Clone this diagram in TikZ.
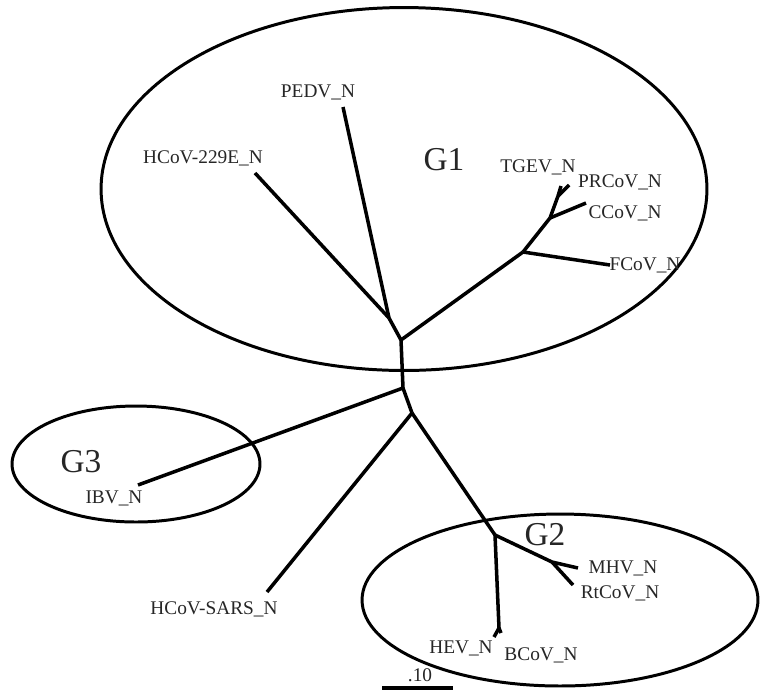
\documentclass[tikz,border=0pt]{standalone}
\usepackage{fontspec}
\setmainfont{Liberation Serif}

\begin{document}
\begin{tikzpicture}[x=0.02cm,y=-0.02cm]
        \useasboundingbox (0,0) rectangle (763,691);

        % groups
        \begin{scope}[line width=1.7pt]
          \draw (404,189) ellipse [x radius=6.06cm, y radius=3.63cm];
          \draw (136,464) ellipse [x radius=2.48cm, y radius=1.16cm];
          \draw (560,600) ellipse [x radius=3.96cm, y radius=1.72cm];
        \end{scope}

        % inner nodes of the tree
        \coordinate (r1)  at (389,318);
        \coordinate (r2)  at (401,340);
        \coordinate (r3)  at (403,388);
        \coordinate (r4)  at (412,413);
        \coordinate (g1a) at (523,252);
        \coordinate (g1b) at (550,218);
        \coordinate (g1c) at (558,196);
        \coordinate (g2a) at (495,535);
        \coordinate (g2b) at (552,562);
        \coordinate (g2c) at (499,628);

        % tips
        \coordinate (pedv)  at (343,107);
        \coordinate (hcoa)  at (255,173);
        \coordinate (tgev)  at (561,186);
        \coordinate (prcov) at (569,185);
        \coordinate (ccov)  at (586,203);
        \coordinate (fcov)  at (610,265);
        \coordinate (ibv)   at (138,485);
        \coordinate (sars)  at (267,592);
        \coordinate (mhv)   at (578,568);
        \coordinate (rtcov) at (573,585);
        \coordinate (hev)   at (494,637);
        \coordinate (bcov)  at (501,633);
        \coordinate (sb1)   at (382,688);
        \coordinate (sb2)   at (453,688);

        \begin{scope}[every node/.style={inner sep=0pt, text=black!85, font=\fontsize{11}{13}\selectfont}]
          \node (lpedv)  at (318,92)  {PEDV\_N};
          \node (lhcoa)  at (203,158) {HCoV-229E\_N};
          \node (ltgev)  at (538,167) {TGEV\_N};
          \node (lprcov) at (620,182) {PRCoV\_N};
          \node (lccov)  at (625,213) {CCoV\_N};
          \node (lfcov)  at (645,265) {FCoV\_N};
          \node (libv)   at (114,498) {IBV\_N};
          \node (lsars)  at (214,609) {HCoV-SARS\_N};
          \node (lmhv)   at (623,568) {MHV\_N};
          \node (lrtcov) at (620,593) {RtCoV\_N};
          \node (lhev)   at (461,648) {HEV\_N};
          \node (lbcov)  at (541,655) {BCoV\_N};
          \node (lsb)    at (420,675) {.10};
        \end{scope}

        \begin{scope}[every node/.style={inner sep=0pt, text=black!85, font=\fontsize{19}{22}\selectfont}]
          \node (G1) at (444,160) {G1};
          \node (G2) at (545,535) {G2};
          \node (G3) at (81,462)  {G3};
        \end{scope}

        \begin{scope}[line width=2pt]
          \draw (r2)  -- (r1);
          \draw (r1)  -- (pedv);
          \draw (r1)  -- (hcoa);
          \draw (r2)  -- (g1a);
          \draw (g1a) -- (fcov);
          \draw (g1a) -- (g1b);
          \draw (g1b) -- (ccov);
          \draw (g1b) -- (g1c);
          \draw (g1c) -- (tgev);
          \draw (g1c) -- (prcov);
          \draw (r2)  -- (r3);
          \draw (r3)  -- (ibv);
          \draw (r3)  -- (r4);
          \draw (r4)  -- (sars);
          \draw (r4)  -- (g2a);
          \draw (g2a) -- (g2b);
          \draw (g2b) -- (mhv);
          \draw (g2b) -- (rtcov);
          \draw (g2a) -- (g2c);
          \draw (g2c) -- (hev);
          \draw (g2c) -- (bcov);
          \draw (sb1) -- (sb2);
        \end{scope}

      \end{tikzpicture}
\end{document}
